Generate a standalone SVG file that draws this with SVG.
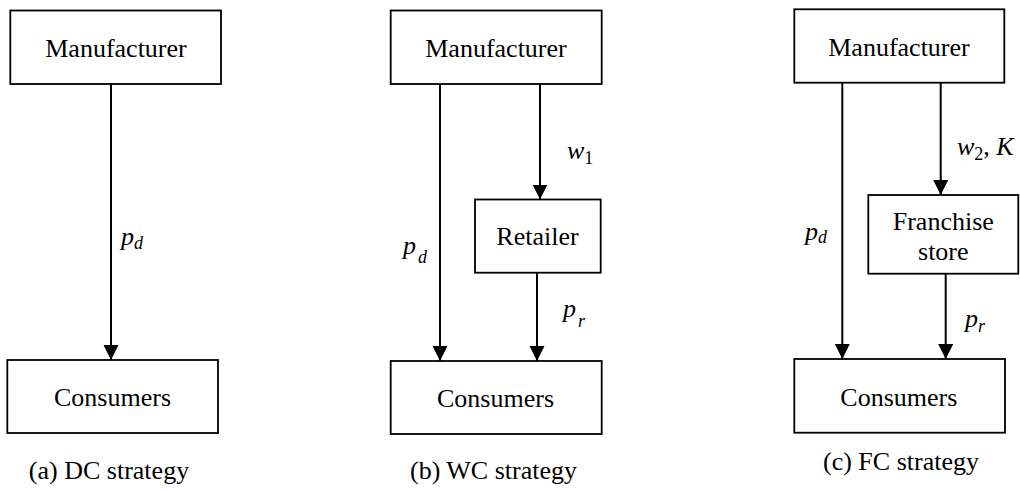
<svg xmlns="http://www.w3.org/2000/svg" width="1020" height="491" viewBox="0 0 1020 491">
<style>
text{font-family:Tinos,"Liberation Serif","Times New Roman",Times,"Nimbus Roman","DejaVu Serif","Noto Serif",Georgia,serif}
.box{fill:#fff;stroke:#000;stroke-width:1.8}
.t{font-size:26px;fill:#000;text-anchor:middle}
.m{font-style:italic;font-size:26px;fill:#000}
.s{font-size:18px}
.ln{stroke:#000;stroke-width:2;fill:none}
</style>
<defs>
<marker id="ah" markerUnits="userSpaceOnUse" markerWidth="16" markerHeight="16" refX="15" refY="7.5" orient="auto">
<path d="M0,0 L15,7.5 L0,15 Z" fill="#000"/>
</marker>
</defs>
<rect width="1020" height="491" fill="#fff"/>
<g id="connectors">
<line class="ln" x1="111" y1="84" x2="111" y2="360" marker-end="url(#ah)"/>
<line class="ln" x1="440" y1="84" x2="440" y2="361" marker-end="url(#ah)"/>
<line class="ln" x1="540" y1="84" x2="540" y2="199.5" marker-end="url(#ah)"/>
<line class="ln" x1="537" y1="272.7" x2="537" y2="361" marker-end="url(#ah)"/>
<line class="ln" x1="842.3" y1="82.7" x2="842.3" y2="359" marker-end="url(#ah)"/>
<line class="ln" x1="940.7" y1="82.7" x2="940.7" y2="195" marker-end="url(#ah)"/>
<line class="ln" x1="945.7" y1="273.7" x2="945.7" y2="359" marker-end="url(#ah)"/>
<text class="m" x="121" y="245">p<tspan class="s" dy="4">d</tspan></text>
<text class="m" x="567" y="159">w<tspan class="s" dy="5" font-style="normal">1</tspan></text>
<text class="m" x="403" y="254">p<tspan class="s" dx="2" dy="9">d</tspan></text>
<text class="m" x="563" y="317">p<tspan class="s" dx="2" dy="10">r</tspan></text>
<text class="m" x="957" y="155">w<tspan class="s" dy="5" font-style="normal">2</tspan><tspan dy="-5" font-style="normal">, </tspan>K</text>
<text class="m" x="805" y="240">p<tspan class="s" dy="3">d</tspan></text>
<text class="m" x="965" y="327">p<tspan class="s" dy="5">r</tspan></text>
</g>
<g id="a-manufacturer"><rect class="box" x="10.3" y="10.5" width="210.7" height="73.5"/><text class="t" x="116" y="57">Manufacturer</text></g>
<g id="a-consumers"><rect class="box" x="7.3" y="360" width="210.7" height="73"/><text class="t" x="112.5" y="405.5">Consumers</text></g>
<text class="t" x="109" y="479">(a) DC strategy</text>
<g id="b-manufacturer"><rect class="box" x="390.7" y="10.5" width="211" height="73.5"/><text class="t" x="496" y="57">Manufacturer</text></g>
<g id="b-retailer"><rect class="box" x="475" y="199.5" width="125.7" height="73.2"/><text class="t" x="537.5" y="245">Retailer</text></g>
<g id="b-consumers"><rect class="box" x="390.7" y="361" width="211" height="73"/><text class="t" x="495.5" y="406.5">Consumers</text></g>
<text class="t" x="493.5" y="479">(b) WC strategy</text>
<g id="c-manufacturer"><rect class="box" x="794.3" y="9.3" width="210" height="73.4"/><text class="t" x="899" y="55.7">Manufacturer</text></g>
<g id="c-franchise"><rect class="box" x="868.3" y="195" width="150" height="78.7"/><text class="t" x="943.3" y="230">Franchise</text><text class="t" x="943.3" y="260">store</text></g>
<g id="c-consumers"><rect class="box" x="794.3" y="359" width="210.7" height="73.7"/><text class="t" x="898.8" y="405.5">Consumers</text></g>
<text class="t" x="901" y="470">(c) FC strategy</text>
</svg>
